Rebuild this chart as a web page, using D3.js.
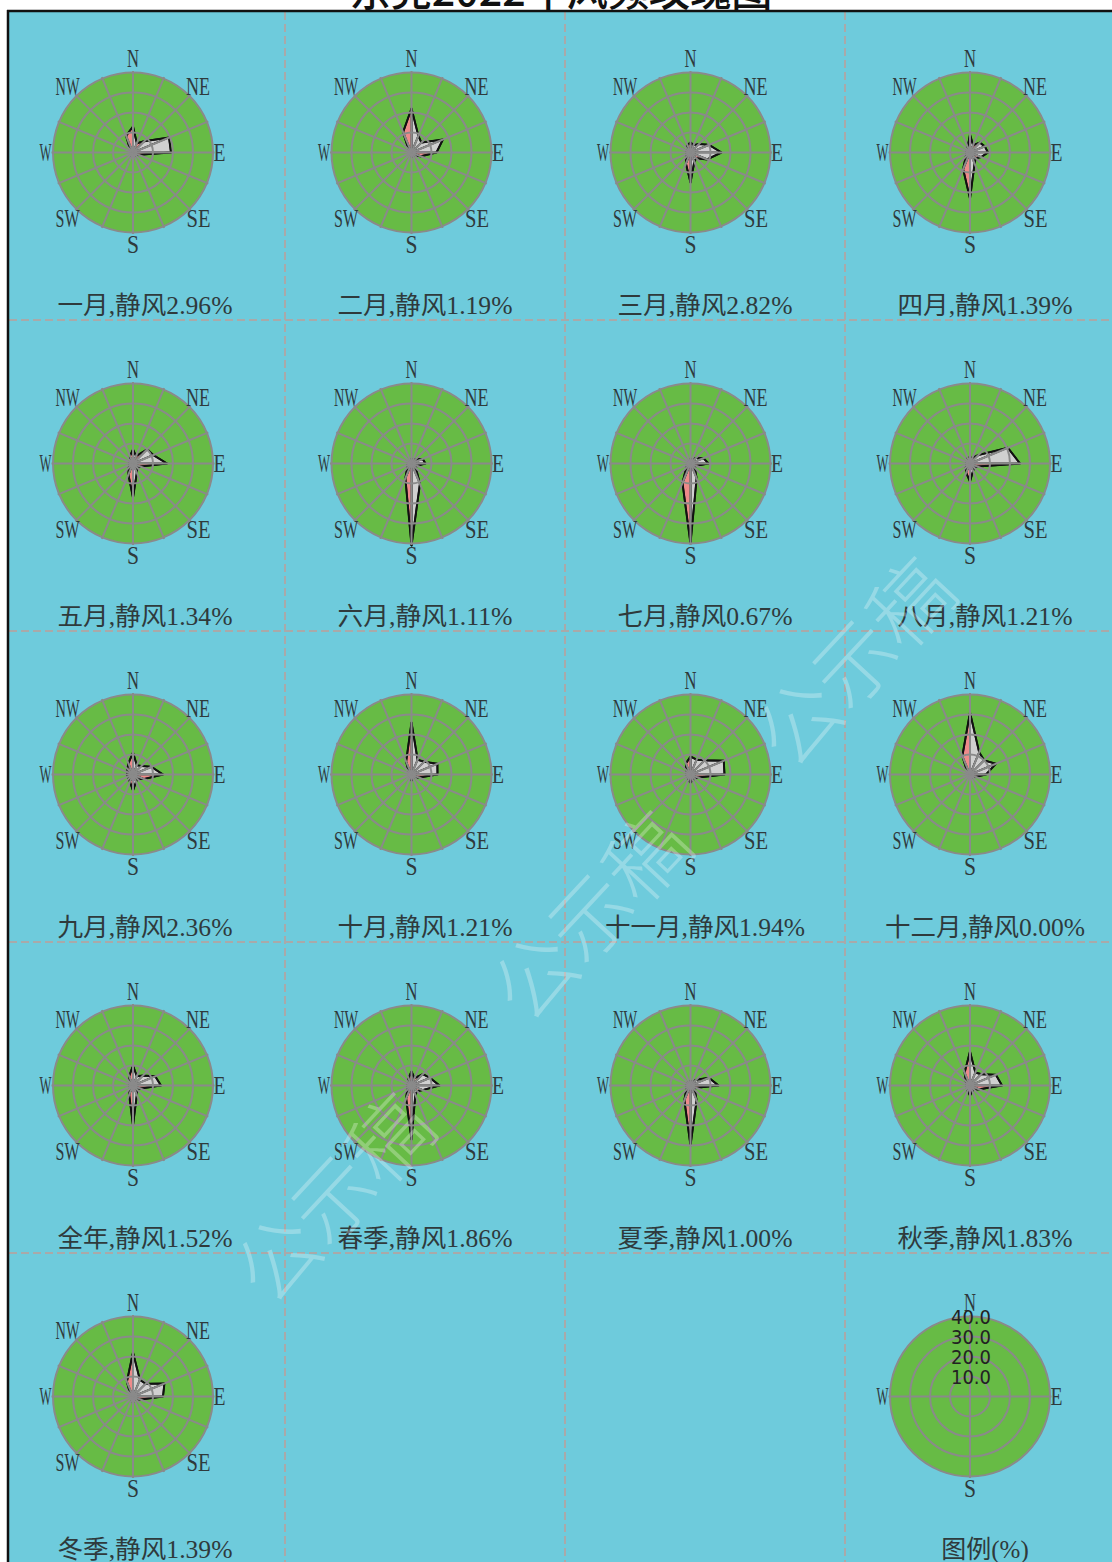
<!DOCTYPE html>
<html><head><meta charset="utf-8">
<script src="https://cdn.jsdelivr.net/npm/d3@7"></script>
<style>body{margin:0;background:#fff;overflow:hidden}svg{display:block}</style>
</head><body>
<svg id="chart" width="1112" height="1562"></svg>
<script>
// ---------------- data ----------------
const chartTitle = "东莞2022年风频玫瑰图";
const directions = ["N","NNE","NE","ENE","E","ESE","SE","SSE","S","SSW","SW","WSW","W","WNW","NW","NNW"];
const compassLabels = ["N","NE","E","SE","S","SW","W","NW"];
const legendLabels = ["N","E","S","W"];
const ringTicks = [10, 20, 30, 40];
const panelNames = ["一月","二月","三月","四月","五月","六月","七月","八月","九月","十月","十一月","十二月","全年","春季","夏季","秋季","冬季"];
const calmValues = ["2.96","1.19","2.82","1.39","1.34","1.11","0.67","1.21","2.36","1.21","1.94","0.00","1.52","1.86","1.00","1.83","1.39"];
//                N   NNE NE  ENE  E   ESE SE  SSE  S   SSW SW  WSW W   WNW NW  NNW
const freqJan = [13,  5,  8, 19.5, 19,  3, 2.5, 2, 2.5,  2, 1.5, 1.5, 1.5, 1.5, 2,  9];
const freqFeb = [22,  9,  7, 17, 12.5,  5,  2,  2,  2, 1.5,  1,  1,  1,  1,  2, 11];
const freqMar = [ 5,  4,  6, 10, 15.5,  9,  4,  5, 15,  6,  3,  2,  2,  2,  2,  4];
const freqApr = [ 9,  4,  7,  8,  9,  6,  4,  6, 23,  9,  3,  2,  2,  2,  2,  3];
const freqMay = [ 7,  4, 10, 11, 17,  4,  3,  5, 17,  6,  3,  2,  2,  2,  2,  4];
const freqJun = [ 2,  2,  3,  6,  7,  3,  3, 11, 41,  8,  3,  2,  2, 1.5, 1.5, 2];
const freqJul = [ 2,  2,  4,  7,  9,  3,  3,  8, 40, 10.5, 3, 2, 1.5, 1.5, 1.5, 2];
const freqAug = [ 3,  3,  6, 20.5, 25, 4,  3,  4,  9,  5,  3,  2,  2,  2,  2,  3];
const freqSep = [11,  5,  6, 10, 15,  6,  3,  4,  8,  4,  3,  3,  3,  3,  4,  6];
const freqOct = [26,  8,  9, 14, 13,  4,  2,  2,  3,  2, 1.5, 1.5, 1.5, 1.5, 2,  7];
const freqNov = [ 9,  8, 10, 18, 17,  4,  3,  3,  4,  3,  2,  2,  2,  2,  3,  6];
const freqDec = [31, 12, 10, 14,  8,  3,  2, 1.5, 2, 1.5,  1,  1,  1,  1,  2, 10];
const freqYear = [10, 5,  7, 12, 14,  4,  3,  5, 20,  5,  2,  2,  2,  2,  2,  5];
const freqSpring = [7, 4, 8, 10, 14,  6,  4,  5, 27,  7,  3,  2,  2,  2,  2,  4];
const freqSummer = [2, 2, 4, 10, 14,  3,  3,  8, 30,  8,  3,  2,  2,  2,  2,  2];
const freqAutumn = [17, 7, 8, 14, 16, 5,  3,  3,  5,  3,  2,  2,  2,  2,  3,  7];
const freqWinter = [22, 9, 9, 17, 15, 4,  2,  2,  3,  2, 1.5, 1.5, 1.5, 1.5, 2,  8];
const panelFreqs = [freqJan,freqFeb,freqMar,freqApr,freqMay,freqJun,freqJul,freqAug,freqSep,freqOct,freqNov,freqDec,freqYear,freqSpring,freqSummer,freqAutumn,freqWinter];

// ---------------- layout ----------------
const svg = d3.select("#chart");
const W = 1112, H = 1562;
const C = {bg:"#6ecbdc", green:"#67bb45", grid:"#8a8a8a", label:"#2f3a3c", gray:"#d0d0d0", pink:"#ee8a8a"};
const SERIF = "'Liberation Serif'", CJK = "'Noto Sans CJK SC'";

const colX = d3.scaleLinear().domain([0,4]).range([5, 1125]);   // cell edges
const rowY = d3.scaleLinear().domain([0,5]).range([10, 1565]);
const roseDx = [128, 126.5, 125.5, 125];
const R = 80;
const rScale = d3.scaleLinear().domain([0, 40]).range([0, R]);
const angle = d3.scalePoint().domain(directions).range([0, 2*Math.PI*15/16]);

// background panel
svg.append("rect").attr("x",8).attr("y",11).attr("width",W).attr("height",H).attr("fill",C.bg);

// dashed separators
const sep = svg.append("g").attr("stroke","#a9a9a9").attr("stroke-width",2).attr("stroke-dasharray","8,4");
[1,2,3].forEach(c => sep.append("line").attr("x1",colX(c)).attr("x2",colX(c)).attr("y1",12).attr("y2",H));
[1,2,3,4].forEach(r => sep.append("line").attr("x1",9).attr("x2",W).attr("y1",rowY(r)-1).attr("y2",rowY(r)-1));

// frame
svg.append("line").attr("x1",7).attr("x2",W).attr("y1",11).attr("y2",11).attr("stroke","#111").attr("stroke-width",2.5);
svg.append("line").attr("x1",8).attr("x2",8).attr("y1",10).attr("y2",H).attr("stroke","#111").attr("stroke-width",2.5);

// title (cut off at top)
svg.append("text").attr("x",561).attr("y",6).attr("text-anchor","middle")
  .attr("font-family",CJK).attr("font-size",42).attr("font-weight",500).attr("fill","#111")
  .attr("textLength",423).attr("lengthAdjust","spacingAndGlyphs").text(chartTitle);

const isWide = ch => ch.charCodeAt(0) > 0x2e80;
function halfWidthLen(s, fs){ let w=0; for(const ch of s){ w += isWide(ch) ? fs : fs/2; } return w; }

// mixed caption: CJK runs in the CJK font, ASCII runs in a serif font
function caption(x, y, s){
  const t = svg.append("text").attr("x",x).attr("y",y).attr("text-anchor","middle")
    .attr("font-size",25).attr("fill",C.label)
    .attr("textLength", halfWidthLen(s,25)).attr("lengthAdjust","spacingAndGlyphs");
  const runs = [];
  for (const ch of s){
    const w = isWide(ch);
    if (runs.length && runs[runs.length-1].w === w) runs[runs.length-1].s += ch;
    else runs.push({w, s: ch});
  }
  runs.forEach(r => t.append("tspan").attr("font-family", r.w ? CJK : SERIF).text(r.s));
}

function labelText(g, x, y, s, fs, per){
  g.append("text").attr("x",x).attr("y",y).attr("text-anchor","middle")
   .attr("font-family",SERIF).attr("font-size",fs).attr("fill",C.label)
   .attr("textLength", per*s.length).attr("lengthAdjust","spacingAndGlyphs").text(s);
}

const labelPos = {N:[0,-94],NE:[65,-66],E:[86.5,0],SE:[65.5,66],S:[0,92.5],SW:[-65.5,66],W:[-87.5,0],NW:[-65.5,-66]};

function drawGrid(g, spokes){
  g.append("circle").attr("r",R).attr("fill",C.green);
  return function(){
    const gg = g.append("g").attr("stroke",C.grid).attr("stroke-width",2).attr("fill","none");
    ringTicks.forEach(t => gg.append("circle").attr("r", rScale(t)));
    spokes.forEach(a => {
      const p = d3.pointRadial(a, R + 1.5);
      gg.append("line").attr("x1",0).attr("y1",0).attr("x2",p[0]).attr("y2",p[1]);
    });
  };
}

function drawRose(g, freqs){
  const pts = directions.map((d,i) => d3.pointRadial(angle(d), rScale(freqs[i])));
  const lightBearing = 75 * Math.PI/180;
  const tri = g.append("g").attr("stroke","#111").attr("stroke-width",1.7).attr("stroke-linejoin","round");
  pts.forEach((p,i) => {
    const q = pts[(i+1)%pts.length];
    // edge normal in compass coords (x east, y north)
    const dx = q[0]-p[0], dy = -(q[1]-p[1]);
    const nx = -dy, ny = dx;
    const b = Math.atan2(nx, ny);
    const lit = Math.cos(b - lightBearing) > 0;
    tri.append("path").attr("d", d3.line()([[0,0], p, q])+"Z")
       .attr("fill", lit ? C.gray : C.pink);
  });
  g.append("path").attr("d", d3.line()(pts)+"Z").attr("fill","none").attr("stroke","#111").attr("stroke-width",2).attr("stroke-linejoin","round");
}

// ---------------- panels ----------------
const spokes16 = directions.map(d => angle(d));
panelNames.forEach((name, k) => {
  const col = k % 4, row = Math.floor(k / 4);
  const cx = colX(col) + roseDx[col], cy = rowY(row) + 142.5;
  const g = svg.append("g").attr("transform",`translate(${cx},${cy})`);
  const finishGrid = drawGrid(g, spokes16);
  drawRose(g, panelFreqs[k]);
  finishGrid();
  compassLabels.forEach(l => {
    const [lx, ly] = labelPos[l];
    labelText(g, lx, ly + 8.3, l, 25, 12);
  });
  caption(colX(col)+140, rowY(row)+304, `${name},静风${calmValues[k]}%`);
});

// ---------------- legend ----------------
{
  const col = 3, row = 4;
  const cx = colX(col) + roseDx[col], cy = rowY(row) + 142.5;
  const g = svg.append("g").attr("transform",`translate(${cx},${cy})`);
  const finishGrid = drawGrid(g, legendLabels.map(l => angle(l)));
  finishGrid();
  legendLabels.forEach(l => { const [lx,ly] = labelPos[l]; labelText(g, lx, ly + 8.3, l, 25, 12); });
  ringTicks.forEach(t => {
    g.append("text").attr("x",1).attr("y", -rScale(t) + 7.5).attr("text-anchor","middle")
     .attr("font-family","'DejaVu Sans Condensed'").attr("font-size",20).attr("fill","#222")
     .text(d3.format(".1f")(t));
  });
  caption(colX(col)+140, rowY(row)+304, "图例(%)");
}

// ---------------- watermark ----------------
const wm = svg.append("g").attr("fill","#ffffff").attr("fill-opacity",0.28)
  .attr("font-family",CJK).attr("font-size",82).attr("font-weight",300);
[[335,1200],[592,918],[856,664]].forEach(([x,y]) => {
  wm.append("text").attr("transform",`translate(${x},${y}) rotate(-47)`).attr("text-anchor","middle")
    .attr("dy","0.35em").text("公示稿");
});
</script>
</body></html>
